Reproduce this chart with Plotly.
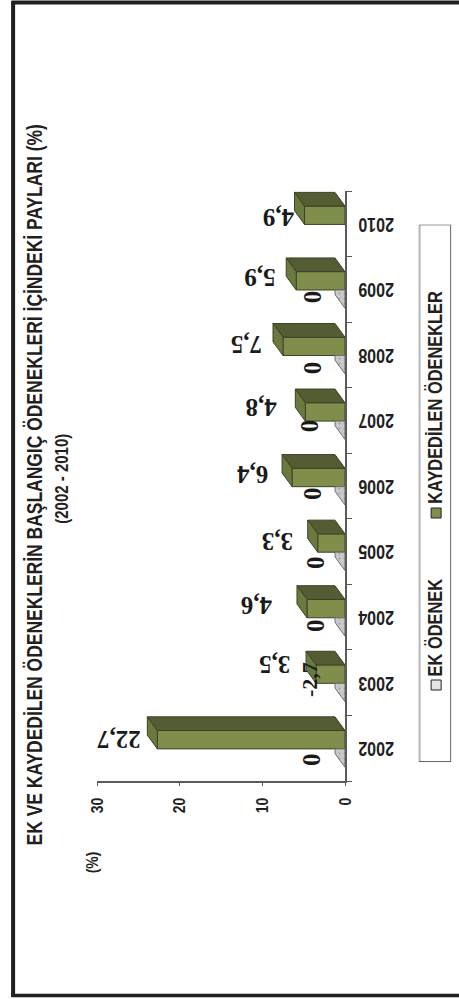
import plotly.graph_objects as go

years = ["2002", "2003", "2004", "2005", "2006", "2007", "2008", "2009", "2010"]
ek_odenek = [0, -2.7, 0, 0, 0, 0, 0, 0, None]
kaydedilen = [22.7, 3.5, 4.6, 3.3, 6.4, 4.8, 7.5, 5.9, 4.9]
value_ticks = [0, 10, 20, 30]

# label nudges in pixels (x, y) relative to the mark
green_shift = [(-38.5, 9.3), (-41, 18.7), (-51, 11), (-39.7, 9.5), (-40, 11),
               (-44, 13), (-36, 11), (-36, 12), (-26.5, 6.5)]
ek_shift = [(-33, -11.7), (-35, 2.7), (-30, -8.9), (-30, -11.5), (-33, -8.1),
            (-36, -5.7), (-33, -13.3), (-33, -7.9), None]

W, H = 459, 999
L, R, T, B = 97.3, 114, 191, 218
FRONT, BASE, DX, DY = 0.28, -0.01, 1.21, 0.209
G_FRONT, G_TOP, G_SIDE, G_LINE = "#7f8f4b", "#545c33", "#6a7a3e", "#3c4226"
GREY, GREY_LINE = "#c9c9c9", "#6f6f6f"
SANS, SERIF = "Liberation Sans", "Liberation Serif"


def xp(px):
    return (px - L) / (W - L - R)


def yp(py):
    return 1 - (py - T) / (H - T - B)


idx = list(range(len(years)))
fig = go.Figure()


def poly(xs, ys, fill, line, **kw):
    fig.add_trace(go.Scatter(x=xs + xs[:1], y=ys + ys[:1], mode="lines", fill="toself",
                             fillcolor=fill, line=dict(color=line, width=1),
                             hoverinfo="skip", showlegend=False, **kw))


# EK ÖDENEK: only the receding wedge shows below the green bar
for i, v in zip(idx, ek_odenek):
    if v is None:
        continue
    x0 = max(v, 0)
    yb = i + BASE - FRONT
    yt = i + BASE
    poly([x0, x0 + DX, x0 + DX, x0], [yb, yb + DY, yt, yt], GREY, GREY_LINE,
         fillpattern=dict(shape=".", size=5, solidity=0.12, fgcolor="#777777", bgcolor=GREY))

# KAYDEDİLEN ÖDENEKLER front faces
fig.add_trace(go.Bar(x=kaydedilen, y=idx, orientation="h", width=FRONT, offset=BASE,
                     marker=dict(color=G_FRONT, line=dict(color=G_LINE, width=1)),
                     hoverinfo="skip", showlegend=False))

for i, v in zip(idx, kaydedilen):
    yb = i + BASE
    yt = yb + FRONT
    poly([0, v, v + DX, DX], [yt, yt, yt + DY, yt + DY], G_TOP, G_LINE)
    poly([v, v, v + DX, v + DX], [yb, yt, yt + DY, yb + DY], G_SIDE, G_LINE)

ann = []
for i, v in zip(idx, kaydedilen):
    dx_, dy_ = green_shift[i]
    ann.append(dict(x=v, y=i, xref="x", yref="y", text=f"{v}".replace(".", ","), showarrow=False,
                    textangle=180, xshift=dx_, yshift=dy_, xanchor="center", yanchor="middle",
                    font=dict(family=SERIF, size=25, color="#1a1a1a", weight=700)))
for i, v in zip(idx, ek_odenek):
    if v is None:
        continue
    dx_, dy_ = ek_shift[i]
    ann.append(dict(x=max(v, 0), y=i, xref="x", yref="y", text=f"{v}".replace(".", ","), showarrow=False,
                    textangle=-90, xshift=dx_, yshift=dy_, xanchor="center", yanchor="middle",
                    font=dict(family=SERIF, size=22 if v else 25, color="#1a1a1a", weight=700)))


def text(px, py, s, size):
    ann.append(dict(x=xp(px), y=yp(py), xref="paper", yref="paper", text=s, showarrow=False,
                    textangle=-90, xanchor="center", yanchor="middle",
                    font=dict(family=SANS, size=size, color="#231f20", weight=700)))


text(34, 485, "EK VE KAYDEDİLEN ÖDENEKLERİN BAŞLANGIÇ ÖDENEKLERİ İÇİNDEKİ PAYLARI (%)", 21.3)
text(61, 479, "(2002 - 2010)", 18.3)
text(92, 863, "(%)", 17)
text(435, 628, "EK ÖDENEK", 20)
text(435, 397, "KAYDEDİLEN ÖDENEKLER", 20)


def rect(x0, y0, x1, y1, fill=None, line="#000", width=1):
    return dict(type="rect", xref="paper", yref="paper", x0=xp(x0), x1=xp(x1), y0=yp(y0), y1=yp(y1),
                fillcolor=fill, line=dict(color=line, width=width), layer="above")


def seg(x0, y0, x1, y1, color, width):
    return dict(type="line", xref="paper", yref="paper", x0=xp(x0), x1=xp(x1), y0=yp(y0), y1=yp(y1),
                line=dict(color=color, width=width), layer="above")


shapes = [
    seg(13.5, 1, 13.5, 997, "#231f20", 4),
    seg(12, 2.5, 459, 2.5, "#231f20", 4),
    seg(12, 995.5, 459, 995.5, "#231f20", 3.5),
    seg(419.5, 225, 419.5, 762, "#b5b5b5", 2),
    seg(419, 225, 451, 225, "#9a9a9a", 1),
    seg(450.5, 225, 450.5, 762, "#666666", 1),
    seg(419, 761.5, 451, 761.5, "#666666", 1),
    rect(431, 680, 441, 690, "#e4e4e4", "#222222", 1),
    rect(431, 508, 441, 518, G_FRONT, "#222222", 1),
]

fig.update_layout(
    width=W, height=H, autosize=False,
    margin=dict(l=L, r=R, t=T, b=B, pad=0),
    paper_bgcolor="white", plot_bgcolor="white",
    showlegend=False, barmode="overlay",
    annotations=ann, shapes=shapes,
    xaxis=dict(range=[30, 0], tickvals=value_ticks, tickangle=-90, showgrid=False, zeroline=False,
               showline=True, linecolor="#5a5a5a", linewidth=2, ticks="outside", ticklen=3,
               tickcolor="#5a5a5a", tickfont=dict(family=SANS, size=17, color="#231f20", weight=700),
               ticklabelstandoff=5),
    yaxis=dict(range=[-0.5, 8.5], side="right", tickvals=[i - 0.1 for i in idx], ticktext=years, tickangle=180,
               showgrid=False, zeroline=False, showline=True, linecolor="#5a5a5a", linewidth=2,
               ticks="outside", ticklen=0, tickcolor="rgba(0,0,0,0)",
               tickfont=dict(family=SANS, size=19.5, color="#231f20", weight=700),
               ticklabelstandoff=43,
               minor=dict(tickvals=[i - 0.5 for i in range(len(years) + 1)], ticks="outside", ticklen=5,
                          tickcolor="#5a5a5a", tickwidth=1)),
)

# The reference's sans text is condensed along its reading direction; no narrow face is installed.
squeeze = """
document.body.style.margin='0';
document.querySelectorAll('svg text').forEach(function(t){
  if ((getComputedStyle(t).fontFamily||'').indexOf('Sans') < 0) return;
  var n = t.getComputedTextLength();
  if (n > 0) { t.setAttribute('textLength', n*0.82); t.setAttribute('lengthAdjust','spacingAndGlyphs'); }
});
"""
fig.write_html("out.html", config=dict(displayModeBar=False), post_script=squeeze)
